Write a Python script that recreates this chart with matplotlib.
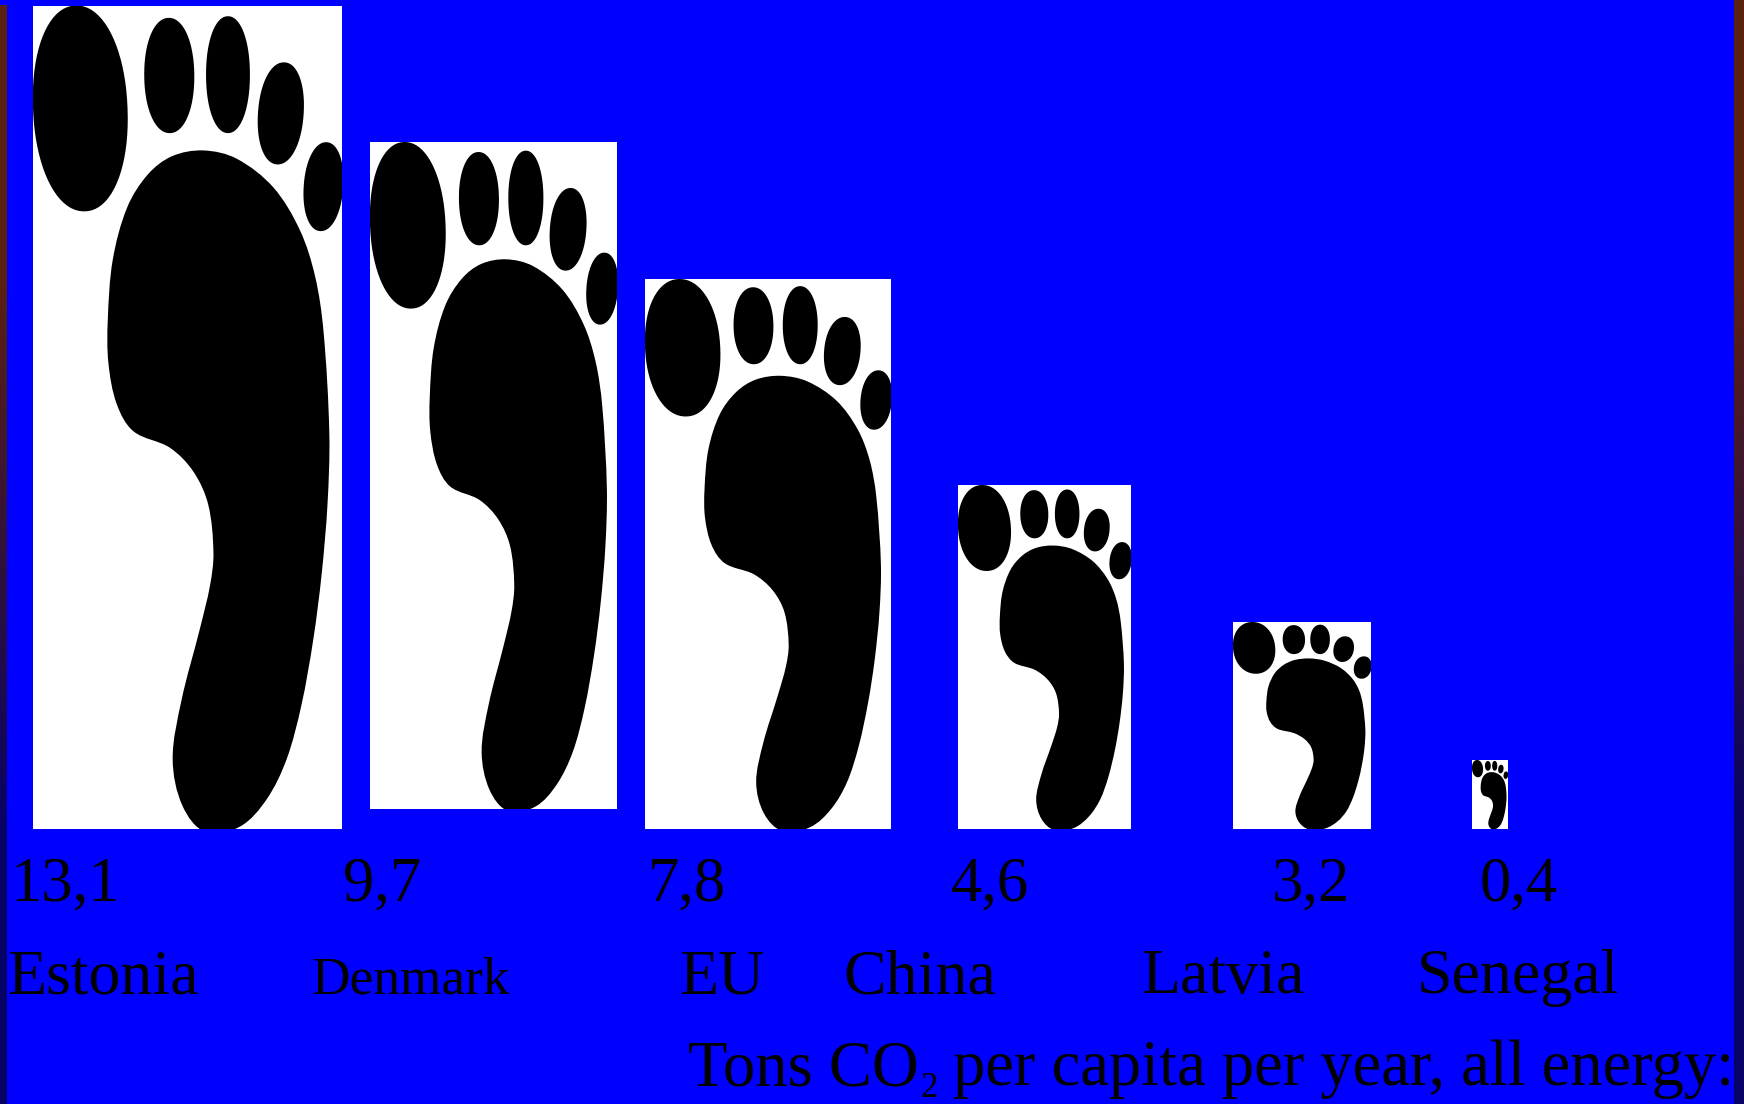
"""
CO2 footprints per capita, one white box with a black foot per country.
"""
import numpy as np
import matplotlib
matplotlib.use("Agg")
import matplotlib.pyplot as plt
from matplotlib.patches import PathPatch
from matplotlib.path import Path
from matplotlib.transforms import Affine2D

plt.rcParams["font.family"] = ["Liberation Serif", "DejaVu Serif"]

# data
countries = ["Estonia", "Denmark", "EU", "China", "Latvia", "Senegal"]
value_labels = ["13,1", "9,7", "7,8", "4,6", "3,2", "0,4"]
unit_start = "Tons CO"
unit_sub = "2"
unit_end = "per capita per year, all energy:"

# layout, in picture pixels
box_left = [33, 370, 645, 958, 1233, 1472]
box_right = [342, 617, 891, 1131, 1371, 1508]
box_top = [5.5, 142, 279, 485, 622, 760]
box_bottom = [829, 808.5, 829, 829, 829, 829]
value_x = [10, 343, 648, 951, 1272, 1480]
name_x = [7, 311, 679, 843, 1141, 1417]
name_size = [46, 38.4, 46, 46, 46, 46]

# foot drawing, as fractions of the box
sole_u = [.551, .659, .778, .864, .913, .940, .959, .953, .934, .907, .869, .821, .756, .670,
          .560, .484, .452, .481, .540, .573, .584, .567, .519, .443, .325, .271, .244, .242,
          .258, .305, .372, .450]
sole_v = [.176, .186, .221, .273, .329, .395, .520, .606, .691, .770, .849, .915, .964, .997,
          1.004, .972, .915, .843, .757, .704, .665, .606, .566, .537, .517, .484, .434, .382,
          .309, .245, .205, .183]
# centre u, centre v, half width, half height, skew
toes = [(.153, .125, .153, .125, .10),
        (.441, .085, .081, .070, .02),
        (.631, .084, .071, .071, 0),
        (.802, .131, .074, .062, -.16),
        (.940, .220, .064, .054, -.16)]


def closed_spline(u, v, aspect=2.66):
    # smooth curve through the points, handle length follows the chord length
    pts = np.column_stack([u, np.array(v) * aspect])
    n = len(pts)
    stretch = np.array([1, 1 / aspect])
    verts = [pts[0] * stretch]
    codes = [Path.MOVETO]
    for i in range(n):
        p0, p1, p2, p3 = pts[i - 1], pts[i], pts[(i + 1) % n], pts[(i + 2) % n]
        t1 = (p2 - p0) / np.linalg.norm(p2 - p0)
        t2 = (p3 - p1) / np.linalg.norm(p3 - p1)
        seg = np.linalg.norm(p2 - p1)
        verts += [(p1 + t1 * seg / 3) * stretch, (p2 - t2 * seg / 3) * stretch, p2 * stretch]
        codes += [Path.CURVE4] * 3
    return Path(verts, codes)


def toe_path(cu, cv, ru, rv, skew):
    # slightly blunt ellipse, leaning by skew
    t = np.linspace(0, 2 * np.pi, 80)
    c = np.sign(np.cos(t)) * np.abs(np.cos(t)) ** 0.95
    s = np.sign(np.sin(t)) * np.abs(np.sin(t)) ** 0.95
    return Path(np.column_stack([cu + ru * c + skew * rv * s, cv + rv * s]))


fig = plt.figure(figsize=(17.44, 11.04), dpi=100, facecolor="#0000FF")
ax = fig.add_axes([0, 0, 1, 1])

# dark strips at both edges, brown at the top going to navy
strip = np.array([[[0.36, 0.13, 0.06]], [[0.03, 0.01, 0.40]]])
ax.imshow(strip, extent=(0, 6, 1104, 5), aspect="auto", interpolation="bilinear", zorder=1)
ax.imshow(strip, extent=(1734, 1744, 1104, 0), aspect="auto", interpolation="bilinear", zorder=1)
ax.set_xlim(0, 1744)
ax.set_ylim(1104, 0)
ax.axis("off")

for i in range(len(countries)):
    w = box_right[i] - box_left[i]
    h = box_bottom[i] - box_top[i]
    box = ax.bar(box_left[i], h, width=w, bottom=box_top[i], align="edge",
                 color="white", linewidth=0, zorder=2)[0]
    to_box = Affine2D().scale(w, h).translate(box_left[i], box_top[i]) + ax.transData
    parts = [closed_spline(sole_u, sole_v)] + [toe_path(*toe) for toe in toes]
    for part in parts:
        patch = PathPatch(part, facecolor="black", edgecolor="none", transform=to_box, zorder=3)
        ax.add_patch(patch)
        patch.set_clip_path(box)

    ax.text(value_x[i], 901, value_labels[i], fontsize=45, color="black",
            ha="left", va="baseline", zorder=4)
    ax.text(name_x[i], 993, countries[i], fontsize=name_size[i], color="black",
            ha="left", va="baseline", zorder=4)

ax.text(688, 1085, unit_start, fontsize=46.5, color="black", ha="left", va="baseline", zorder=4)
ax.text(920, 1097, unit_sub, fontsize=25, color="black", ha="left", va="baseline", zorder=4)
ax.text(953, 1085, unit_end, fontsize=46.5, color="black", ha="left", va="baseline", zorder=4)

fig.savefig("out.png", dpi=100, facecolor=fig.get_facecolor())
